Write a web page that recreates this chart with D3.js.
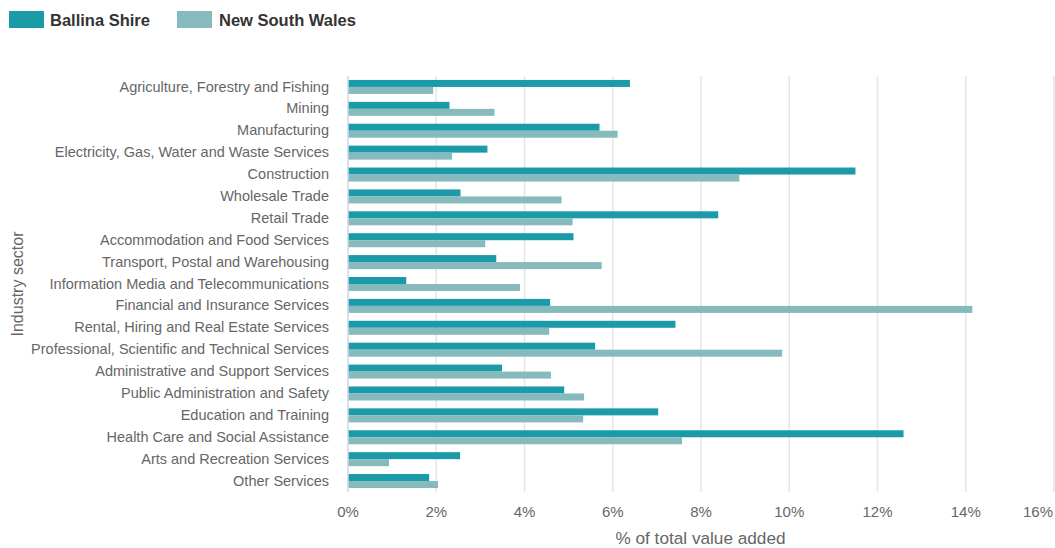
<!DOCTYPE html>
<html><head><meta charset="utf-8">
<script src="https://cdn.jsdelivr.net/npm/d3@7"></script>
<style>
body{margin:0;background:#fff;}
svg{display:block;font-family:"Liberation Sans",Arial,sans-serif;}
</style></head>
<body><svg id="c" width="1055" height="548"></svg>
<script>
const categories = ["Agriculture, Forestry and Fishing","Mining","Manufacturing","Electricity, Gas, Water and Waste Services","Construction","Wholesale Trade","Retail Trade","Accommodation and Food Services","Transport, Postal and Warehousing","Information Media and Telecommunications","Financial and Insurance Services","Rental, Hiring and Real Estate Services","Professional, Scientific and Technical Services","Administrative and Support Services","Public Administration and Safety","Education and Training","Health Care and Social Assistance","Arts and Recreation Services","Other Services"];
const ballina = [6.39,2.30,5.70,3.16,11.50,2.55,8.39,5.11,3.36,1.32,4.58,7.42,5.60,3.49,4.90,7.03,12.59,2.54,1.84];
const nsw = [1.93,3.32,6.11,2.36,8.87,4.84,5.09,3.11,5.75,3.90,14.15,4.56,9.84,4.60,5.35,5.33,7.57,0.93,2.04];
const seriesNames = ["Ballina Shire","New South Wales"];
const xTicks = [0,2,4,6,8,10,12,14,16];

const colors = ["#1a9ba7","#86babd"];
const svg = d3.select("#c");
const L = 348, R = 1054, T = 76, B = 492;
const x = d3.scaleLinear().domain([0,16]).range([L,R]);
const y = d3.scaleBand().domain(categories).range([T,B]).paddingInner(0.36).paddingOuter(0.18);
const sub = d3.scaleBand().domain([0,1]).range([0,y.bandwidth()]);

// grid
svg.append("g").selectAll("line").data(xTicks.slice(1)).join("line")
  .attr("x1",d=>x(d)).attr("x2",d=>x(d)).attr("y1",T).attr("y2",B)
  .attr("stroke","#e6e6e6").attr("stroke-width",1.5);

// bars
const series = [ballina, nsw];
series.forEach((vals,si)=>{
  svg.append("g").selectAll("rect").data(vals).join("rect")
    .attr("x",L).attr("y",(d,i)=>y(categories[i])+sub(si))
    .attr("width",d=>x(d)-L).attr("height",sub.bandwidth())
    .attr("fill",colors[si]);
});

// axis line
svg.append("line").attr("x1",L).attr("x2",L).attr("y1",T).attr("y2",B)
  .attr("stroke","#ccd6eb").attr("stroke-width",1.5);

// category labels
svg.append("g").selectAll("text").data(categories).join("text")
  .attr("x",329).attr("y",d=>y(d)+y.bandwidth()/2 - 0.5).attr("dy","0.35em")
  .attr("text-anchor","end").attr("font-size",14.5).attr("fill","#666")
  .text(d=>d);

// x tick labels
const lastTick = xTicks[xTicks.length-1];
svg.append("g").selectAll("text").data(xTicks).join("text")
  .attr("x",d=>d===lastTick ? 1053 : x(d)).attr("y",517)
  .attr("text-anchor",d=>d===lastTick ? "end" : "middle")
  .attr("font-size",15).attr("fill","#666").text(d=>d+"%");

// axis titles
svg.append("text").attr("x",(L+R)/2 - 0.5).attr("y",543.5).attr("text-anchor","middle")
  .attr("font-size",17.2).attr("fill","#666").text("% of total value added");
svg.append("text").attr("transform",`translate(23,${(T+B)/2}) rotate(-90)`)
  .attr("text-anchor","middle").attr("font-size",16).attr("fill","#666").text("Industry sector");

// legend
const lg = [{x:9,tx:50},{x:177,tx:219}];
seriesNames.forEach((n,i)=>{
  svg.append("rect").attr("x",lg[i].x).attr("y",11).attr("width",35).attr("height",17).attr("fill",colors[i]);
  svg.append("text").attr("x",lg[i].tx).attr("y",25.5).attr("font-size",16.5).attr("font-weight","bold")
    .attr("fill","#333").text(n);
});
</script></body></html>
